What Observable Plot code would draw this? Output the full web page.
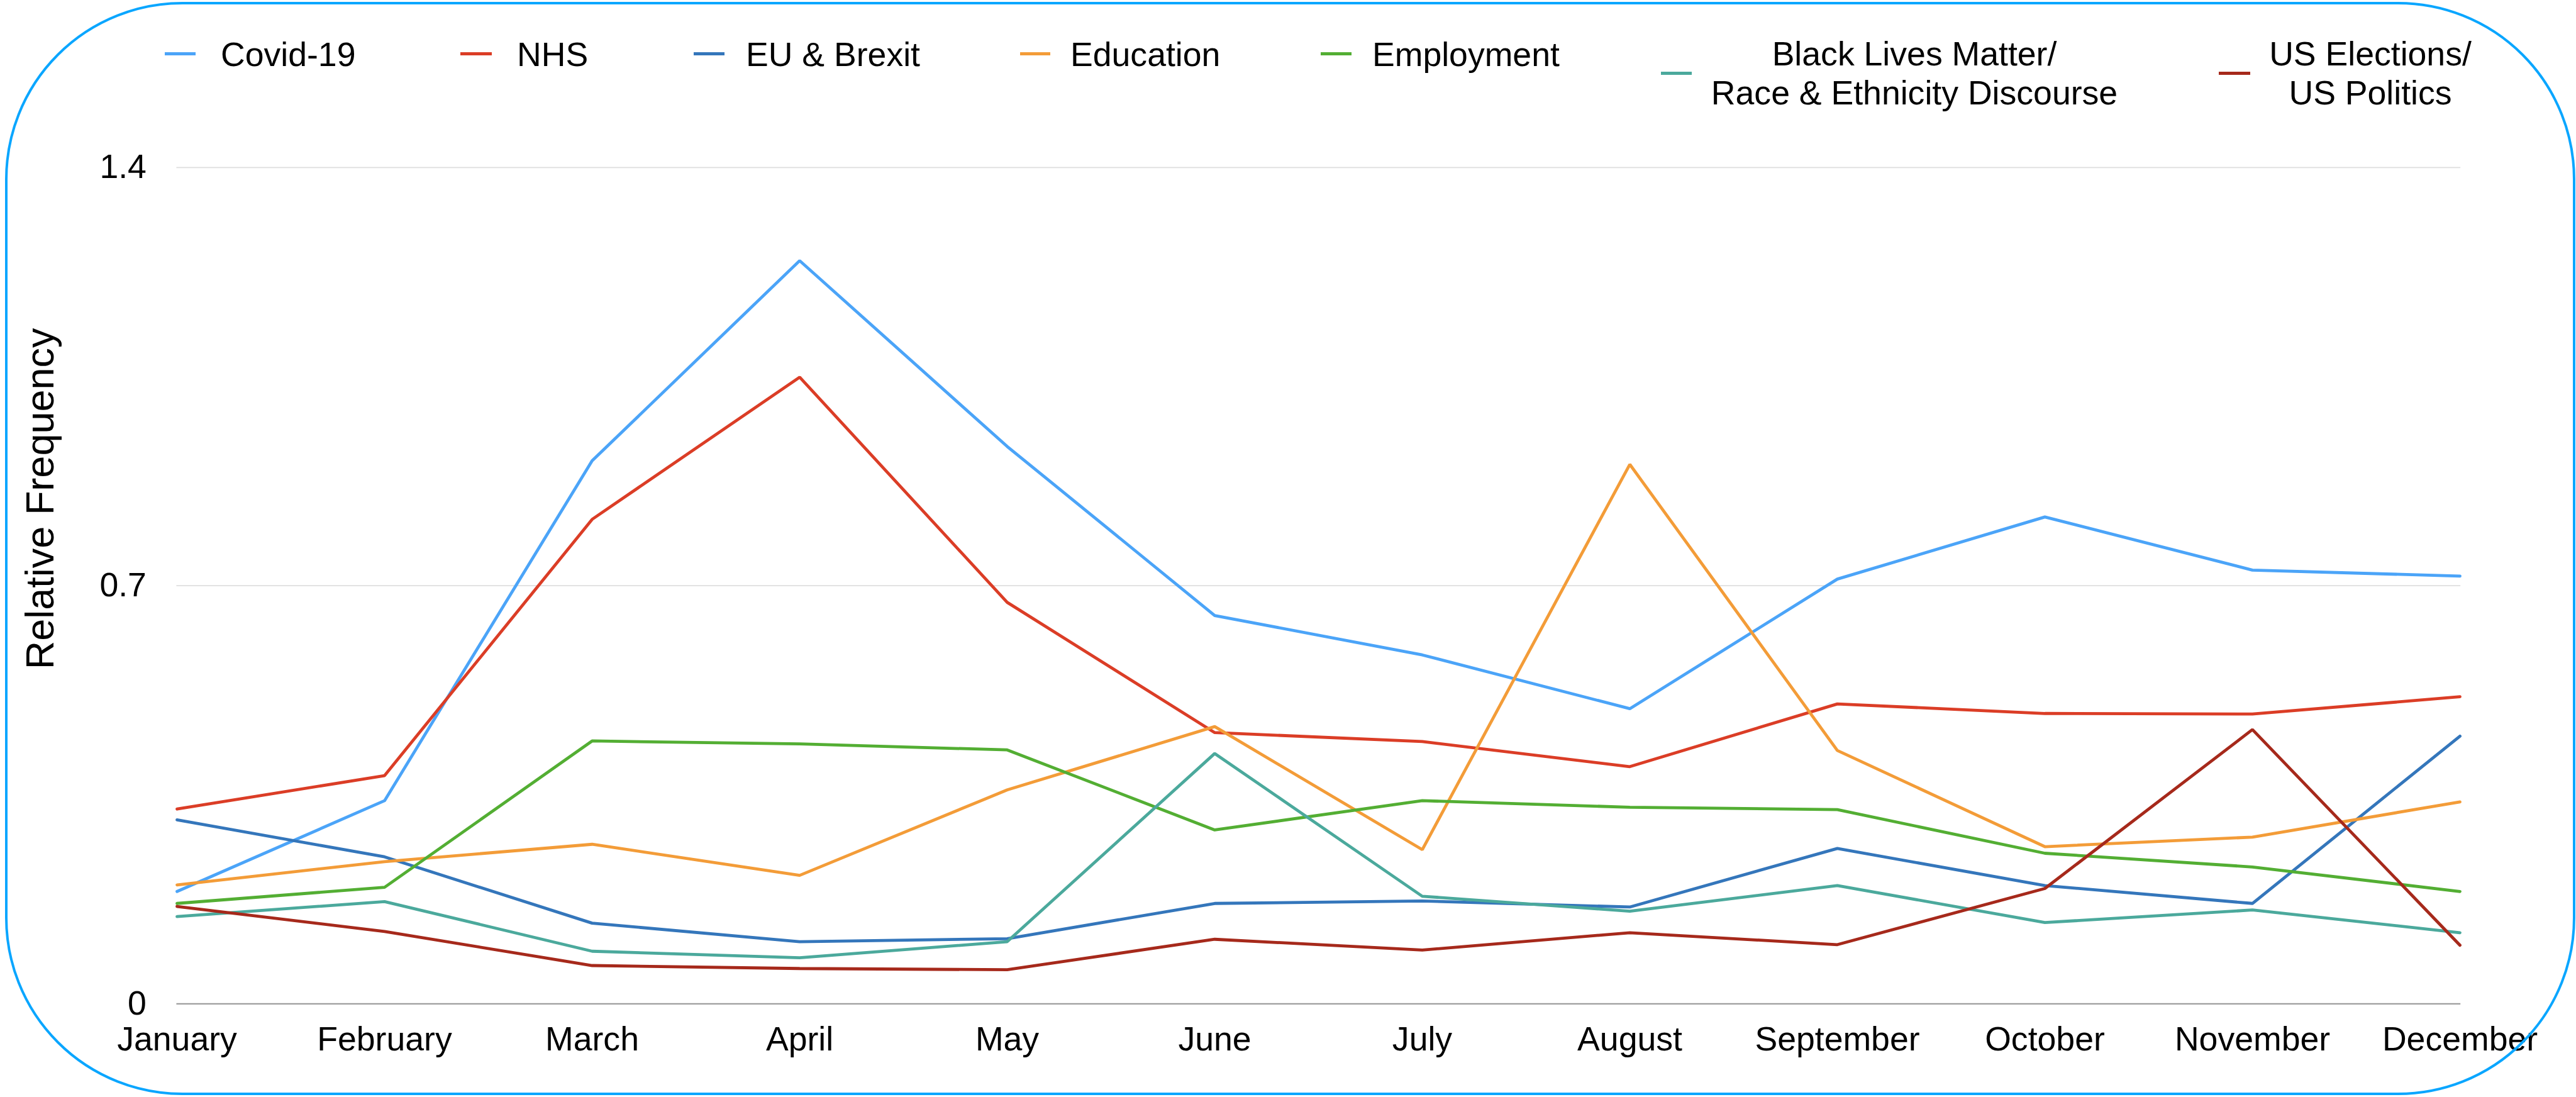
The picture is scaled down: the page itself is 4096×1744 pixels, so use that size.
<!DOCTYPE html>
<html>
<head>
<meta charset="utf-8">
<script src="https://cdn.jsdelivr.net/npm/d3@7"></script>
<script src="https://cdn.jsdelivr.net/npm/@observablehq/plot@0.6"></script>
<style>
  html, body { margin: 0; padding: 0; background: #fff; overflow: hidden; }
  #wrap { position: relative; width: 4096px; height: 1744px; font-family: "Liberation Sans", Arial, sans-serif; color: #000; }
  #legend { position: absolute; left: 0; top: 0; width: 4096px; height: 190px; }
  #chart { position: absolute; left: 0; top: 190px; }
  #frame { position: absolute; left: 8px; top: 3px; width: 4087px; height: 1738px; box-sizing: border-box;
           border: 4px solid #0aa6ff; border-radius: 282px; pointer-events: none; }
  .sw { position: absolute; height: 5px; }
  .lt { position: absolute; font-size: 53.6px; white-space: nowrap; }
</style>
</head>
<body>
<div id="wrap">
  <div id="legend"></div>
  <div id="chart"></div>
  <div id="frame"></div>
</div>
<script>
// ---- data ----
const months = ["January","February","March","April","May","June","July","August","September","October","November","December"];
const seriesNames = ["Covid-19","NHS","EU & Brexit","Education","Employment","Black Lives Matter/\nRace & Ethnicity Discourse","US Elections/\nUS Politics"];
const seriesColors = ["#4ba4f8","#db3d26","#3476bb","#f39c38","#53ae33","#4ba99c","#a6291b"];

const covid      = [0.188, 0.340, 0.909, 1.244, 0.933, 0.650, 0.584, 0.494, 0.711, 0.815, 0.726, 0.716];
const nhs        = [0.326, 0.382, 0.811, 1.049, 0.672, 0.454, 0.439, 0.397, 0.502, 0.486, 0.485, 0.514];
const euBrexit   = [0.308, 0.246, 0.135, 0.104, 0.109, 0.168, 0.172, 0.162, 0.260, 0.198, 0.168, 0.448];
const education  = [0.199, 0.238, 0.267, 0.215, 0.358, 0.464, 0.258, 0.903, 0.424, 0.263, 0.279, 0.338];
const employment = [0.168, 0.195, 0.440, 0.435, 0.425, 0.291, 0.340, 0.329, 0.325, 0.252, 0.229, 0.188];
const blm        = [0.146, 0.171, 0.088, 0.077, 0.104, 0.419, 0.180, 0.155, 0.198, 0.136, 0.157, 0.119];
const usPolitics = [0.163, 0.121, 0.064, 0.059, 0.057, 0.108, 0.090, 0.119, 0.099, 0.193, 0.459, 0.098];

const yTicks = [0, 0.7, 1.4];
const yTitle = "Relative Frequency";

// ---- tidy table ----
const allSeries = [covid, nhs, euBrexit, education, employment, blm, usPolitics];
const table = [];
allSeries.forEach((vals, si) => {
  vals.forEach((v, mi) => table.push({series: seriesNames[si], month: months[mi], value: v}));
});

// ---- legend (HTML, real text) ----
const legend = document.getElementById("legend");
const legendLayout = [
  {sw: [262, 311], text: 351, cx: null},
  {sw: [732, 782], text: 822, cx: null},
  {sw: [1103, 1152], text: 1186, cx: null},
  {sw: [1622, 1670], text: 1702, cx: null},
  {sw: [2100, 2149], text: 2182, cx: null},
  {sw: [2641, 2690], text: null, cx: 3044},
  {sw: [3528, 3578], text: null, cx: 3769}
];
seriesNames.forEach((name, i) => {
  const L = legendLayout[i];
  const lines = name.split("\n");
  const sw = document.createElement("div");
  sw.className = "sw";
  sw.style.background = seriesColors[i];
  sw.style.left = L.sw[0] + "px";
  sw.style.width = (L.sw[1] - L.sw[0]) + "px";
  sw.style.top = (lines.length > 1 ? 114 : 83) + "px";
  legend.appendChild(sw);
  const t = document.createElement("div");
  t.className = "lt";
  if (lines.length === 1) {
    t.style.left = L.text + "px";
    t.style.top = "55.9px";
    t.style.lineHeight = "60px";
    t.textContent = lines[0];
  } else {
    t.style.left = (L.cx - 500) + "px";
    t.style.width = "1000px";
    t.style.textAlign = "center";
    t.style.top = "55.3px";
    t.style.lineHeight = "61.2px";
    lines.forEach((ln) => {
      const d = document.createElement("div");
      d.textContent = ln;
      t.appendChild(d);
    });
  }
  legend.appendChild(t);
});

// ---- chart ----
const W = 4096, H = 1554;
const chart = Plot.plot({
  width: W,
  height: H,
  marginLeft: 280.4,
  marginRight: 183.8,
  marginTop: 75.8,
  marginBottom: 148.7,
  style: {fontFamily: "Liberation Sans, Arial, sans-serif", fontSize: "53.6px", color: "#000", background: "transparent", overflow: "visible"},
  x: {type: "point", domain: months, padding: 0, align: 0.5},
  y: {domain: [0, 1.4], axis: null},
  color: {domain: seriesNames, range: seriesColors},
  marks: [
    Plot.ruleY([0.7, 1.4], {stroke: "#dedede", strokeWidth: 1.8}),
    Plot.ruleY([0], {stroke: "#9e9e9e", strokeWidth: 2.2}),
    Plot.line(table, {x: "month", y: "value", z: "series", stroke: "series", strokeWidth: 4.8, strokeLinejoin: "miter"}),
    Plot.text(yTicks, {y: d => d, text: d => String(d), frameAnchor: "left", dx: -48, textAnchor: "end", lineAnchor: "middle", fontSize: 53.6, fill: "#000"}),
    Plot.axisX({tickSize: 0, tickPadding: 36, fontSize: 53.6, label: null}),
    Plot.text([yTitle], {frameAnchor: "left", text: d => d, rotate: -90, dx: -216.4, dy: -138.2, fontSize: 63, textAnchor: "middle", lineAnchor: "middle"})
  ]
});
document.getElementById("chart").appendChild(chart);
</script>
</body>
</html>
